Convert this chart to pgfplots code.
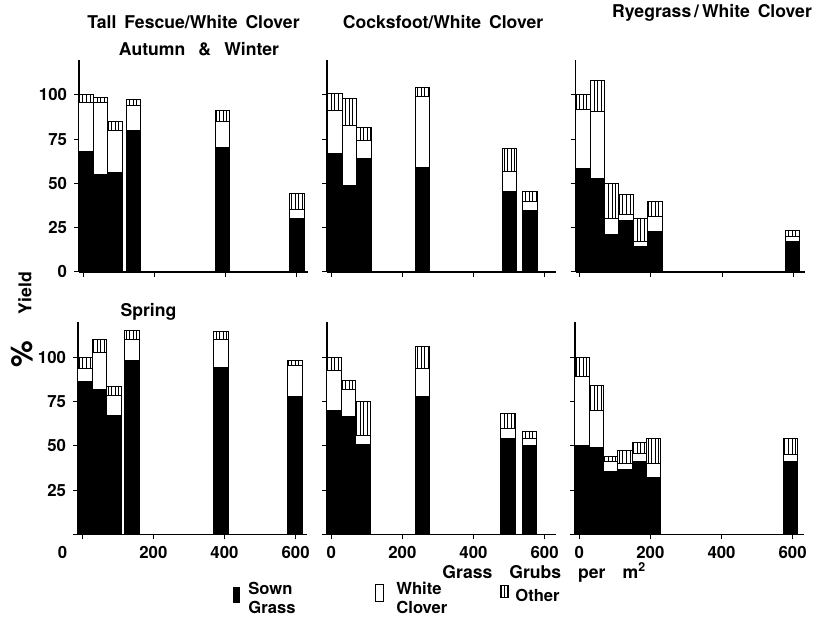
\documentclass[border=0pt]{standalone}
\usepackage{fontspec}
\setmainfont{TeX Gyre Heros}
\usepackage{pgfplots}
\pgfplotsset{compat=1.18}
\usetikzlibrary{patterns.meta}
\pgfplotsset{
 panel/.style={scale only axis, width=114.5pt, height=106.2pt,
   xmin=-12, xmax=632, ymin=0, ymax=120,
   axis x line*=bottom, axis y line*=left, ybar stacked,
   xtick={0,200,400,600}, ytick={0,25,50,75,100},
   xticklabels={,,,}, yticklabels={,,,,},
   tick align=outside, major tick length=2.5pt,
   every tick/.style={black, line width=0.5pt},
   axis line style={line width=0.6pt},
   ticklabel style={font=\fontsize{8.4}{9}\selectfont\bfseries},
   anchor=south west, clip=false},
 sown/.style={fill=black, draw=black, line width=0.5pt},
 clov/.style={fill=white, draw=black, line width=0.5pt},
 oth/.style={draw=black, line width=0.5pt, pattern={Lines[angle=90,distance=1.8pt,line width=0.45pt]}},
}
\newcommand{\tfont}{\fontsize{8.8}{11}\selectfont\bfseries\spaceskip=0.45em\relax}
\newcommand{\afont}{\fontsize{8.8}{11}\selectfont\bfseries\spaceskip=0.75em\relax}
\newcommand{\xfont}{\fontsize{8.8}{11}\selectfont\bfseries}
\newcommand{\lfont}{\fontsize{8.3}{9.6}\selectfont\bfseries}
\begin{document}
\begin{tikzpicture}
\path[use as bounding box] (0,0) rectangle (407pt,312.5pt);
% Top-left: Tall Fescue, Autumn & Winter
\begin{axis}[panel, at={(39.5pt,176.5pt)}, bar width=41, yticklabels={0,25,50,75,100}]
\addplot[sown] coordinates {(8,68) (49,55) (90,56) (141,80) (392,70.5) (601,30)};
\addplot[clov] coordinates {(8,28) (49,40.5) (90,24) (141,14) (392,14.5) (601,5.5)};
\addplot[oth] coordinates {(8,4) (49,3) (90,5) (141,3.5) (392,6) (601,9)};
\end{axis}
% Top-middle: Cocksfoot
\begin{axis}[panel, at={(163.5pt,176.5pt)}, bar width=41]
\addplot[sown] coordinates {(10,67) (51,49) (92,64) (257,59) (501,45.5) (559,35)};
\addplot[clov] coordinates {(10,24) (51,34) (92,10.5) (257,40) (501,11.5) (559,5)};
\addplot[oth] coordinates {(10,10) (51,15) (92,7) (257,5.5) (501,13) (559,5.5)};
\end{axis}
% Top-right: Ryegrass
\begin{axis}[panel, at={(287.75pt,176.5pt)}, bar width=40.5]
\addplot[sown] coordinates {(9,58.5) (49.5,53) (90,21) (130.5,29) (171,14.5) (211.5,23) (598,17.5)};
\addplot[clov] coordinates {(9,33.5) (49.5,37.5) (90,9) (130.5,3.5) (171,3) (211.5,8.5) (598,2.5)};
\addplot[oth] coordinates {(9,8) (49.5,17.5) (90,20) (130.5,11.5) (171,12.5) (211.5,8.5) (598,3.5)};
\end{axis}
% Bottom-left: Tall Fescue, Spring
\begin{axis}[panel, at={(39pt,45.25pt)}, bar width=41, yticklabels={,25,50,75,100},
  xticklabels={\makebox[0pt][r]{0\hspace{7.5pt}},200,400,600}]
\addplot[sown] coordinates {(7,86.5) (48,82) (89,67) (140,98.5) (390,94.5) (598,78)};
\addplot[clov] coordinates {(7,7.5) (48,21) (89,11.5) (140,11.5) (390,15.5) (598,17.5)};
\addplot[oth] coordinates {(7,6) (48,7) (89,5) (140,5.5) (390,4.5) (598,3)};
\end{axis}
% Bottom-middle: Cocksfoot, Spring
\begin{axis}[panel, at={(163.5pt,45.25pt)}, bar width=41, xticklabels={0,200,400,600}]
\addplot[sown] coordinates {(7,70) (48,66.5) (89,51) (257,78) (497,54) (557,50.5)};
\addplot[clov] coordinates {(7,22.5) (48,15.5) (89,5) (257,15.5) (497,6) (557,3.5)};
\addplot[oth] coordinates {(7,7.5) (48,5) (89,19) (257,12.5) (497,8.5) (557,4)};
\end{axis}
% Bottom-right: Ryegrass, Spring
\begin{axis}[panel, at={(287.5pt,45.25pt)}, bar width=40.3, xticklabels={0,200,400,600}]
\addplot[sown] coordinates {(8,50) (48.3,49) (88.6,35.5) (128.9,36.5) (169.2,41.5) (209.5,32) (594,41.5)};
\addplot[clov] coordinates {(8,39) (48.3,21) (88.6,6) (128.9,3.5) (169.2,4) (209.5,8) (594,3.5)};
\addplot[oth] coordinates {(8,11) (48.3,14) (88.6,2.5) (128.9,7.5) (169.2,6.5) (209.5,14) (594,9)};
\end{axis}
% Titles and labels
\node[font=\tfont] at (96.75pt,301.25pt) {Tall Fescue/White Clover};
\node[font=\afont] at (99.5pt,288pt) {Autumn \& Winter};
\node[font=\tfont] at (221.5pt,301.5pt) {Cocksfoot/White Clover};
\node[font=\tfont] at (356pt,306pt) {Ryegrass\,/\,White Clover};
\node[font=\tfont] at (74.25pt,156.75pt) {Spring};
\node[font=\tfont, rotate=90] at (12.5pt,166pt) {Yield};
\node[font=\fontsize{15}{15}\selectfont\bfseries, rotate=90] at (11pt,135.5pt) {\%};
\node[font=\xfont, anchor=base west, inner sep=0pt] at (221pt,23pt) {Grass\hspace{8.5pt}Grubs\hspace{8.5pt}per\hspace{8.5pt}m\textsuperscript{2}};
% Legend
\fill[black] (116.5pt,11pt) rectangle (120pt,19pt);
\node[font=\lfont, anchor=west, align=left, inner sep=0pt] at (124pt,13.5pt) {Sown\\Grass};
\draw[black, line width=0.5pt] (187.5pt,11.5pt) rectangle (191.5pt,20pt);
\node[font=\lfont, anchor=west, align=left, inner sep=0pt] at (198pt,13.5pt) {White\\Clover};
\draw[black, line width=0.5pt, pattern={Lines[angle=90,distance=1.3pt,line width=0.4pt]}] (250pt,13.5pt) rectangle (254pt,19.5pt);
\node[font=\lfont, anchor=west, inner sep=0pt] at (257.5pt,15pt) {Other};
\end{tikzpicture}
\end{document}
